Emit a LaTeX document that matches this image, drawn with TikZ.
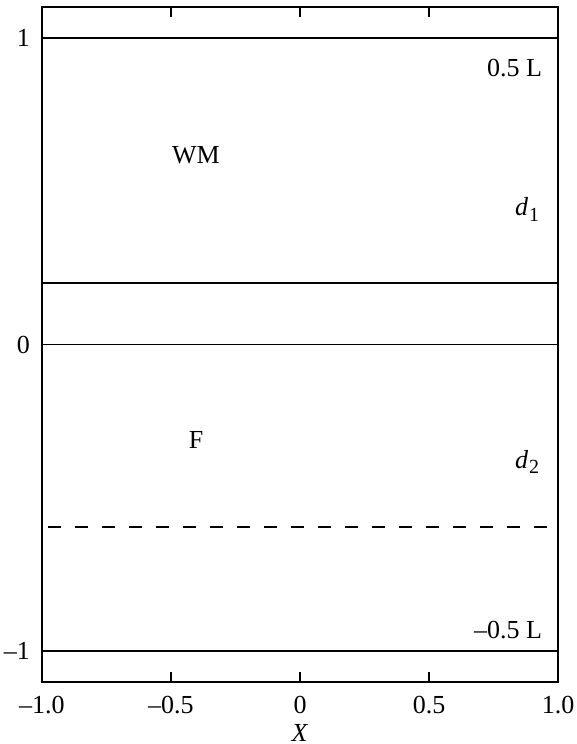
\documentclass[tikz,border=0pt]{standalone}
\usepackage{fontspec}
\setmainfont{Liberation Serif}

\newcommand{\dsub}[1]{\textit{d}\kern0.5pt\raisebox{-0.45ex}{\fontsize{10}{11}\selectfont #1}}

\tikzset{
  boundary/.style={line width=1.1pt},
  axisline/.style={line width=0.65pt},
  lbl/.style={inner sep=0pt, font=\fontsize{13}{15}\selectfont},
  ticklbl/.style={inner sep=0pt, font=\fontsize{13}{15}\selectfont}
}

\begin{document}
\begin{tikzpicture}[x=129pt, y=153.25pt]
  \useasboundingbox (-1.1628,-1.3034) rectangle (1.0698,1.124);
  % frame
  \draw[line width=1pt] (-1,-1.1) rectangle (1,1.1);
  \foreach \t in {-0.5,0,0.5} {
    \draw[line width=0.6pt] (\t,1.1) -- (\t,1.067);
    \draw[line width=0.6pt] (\t,-1.1) -- (\t,-1.067);
  }
  \foreach \t in {-1,0,1} {
    \draw[line width=0.6pt] (-1,\t) -- (-0.973,\t);
    \draw[line width=0.6pt] (1,\t) -- (0.973,\t);
  }
  % layers
  \coordinate (topL) at (-1,1);     \coordinate (topR) at (1,1);
  \coordinate (midL) at (-1,0.2);   \coordinate (midR) at (1,0.2);
  \coordinate (zeroL) at (-1,0);    \coordinate (zeroR) at (1,0);
  \coordinate (dashL) at (-0.977,-0.595); \coordinate (dashR) at (1,-0.595);
  \coordinate (botL) at (-1,-1);    \coordinate (botR) at (1,-1);
  \draw[boundary] (topL) -- (topR);
  \draw[boundary] (midL) -- (midR);
  \draw[axisline] (zeroL) -- (zeroR);
  \draw[boundary, dash pattern=on 6.5pt off 7pt] (dashL) -- (dashR);
  \draw[boundary] (botL) -- (botR);
  % labels
  \node[lbl, anchor=east] (upper) at (0.94,0.902) {0.5 L};
  \node[lbl] (wm) at (-0.403,0.619) {WM};
  \node[lbl] (d1) at (0.88,0.44) {\dsub{1}};
  \node[lbl] (f) at (-0.403,-0.31) {F};
  \node[lbl] (d2) at (0.88,-0.383) {\dsub{2}};
  \node[lbl, anchor=east] (lower) at (0.94,-0.93) {–0.5 L};
  % tick labels
  \node[ticklbl, anchor=east] (y1) at (-1.045,1) {1};
  \node[ticklbl, anchor=east] (y0) at (-1.045,0) {0};
  \node[ticklbl, anchor=east] (ym1) at (-1.045,-1) {–1};
  \node[ticklbl] (xm10) at (-1,-1.176) {–1.0};
  \node[ticklbl] (xm05) at (-0.5,-1.176) {–0.5};
  \node[ticklbl] (x0) at (0,-1.176) {0};
  \node[ticklbl] (x05) at (0.5,-1.176) {0.5};
  \node[ticklbl] (x10) at (1,-1.176) {1.0};
  \node[ticklbl] (xlab) at (0,-1.266) {\textit{X}};
\end{tikzpicture}
\end{document}
